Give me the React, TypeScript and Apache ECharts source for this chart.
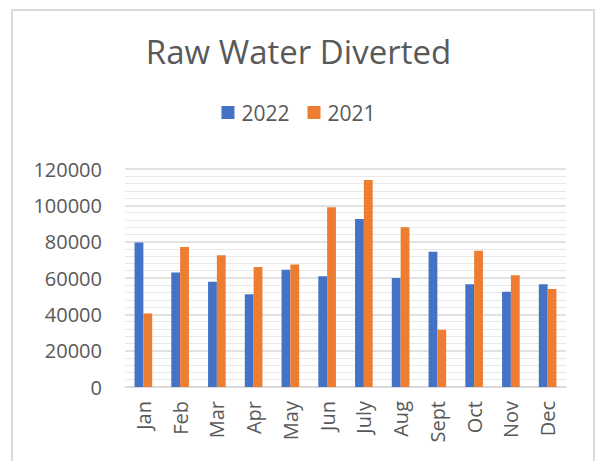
import React, { useEffect, useRef } from "react";
import * as echarts from "echarts";

const title = "Raw Water Diverted";
const months = ["Jan", "Feb", "Mar", "Apr", "May", "Jun", "July", "Aug", "Sept", "Oct", "Nov", "Dec"];
const series2022 = [79500, 63000, 58000, 51000, 64500, 61000, 92500, 60000, 74500, 56500, 52500, 56500];
const series2021 = [40500, 77000, 72500, 66000, 67500, 99000, 114000, 88000, 31500, 75000, 61500, 54000];
const yTicks = { min: 0, max: 120000, interval: 20000 };

const FONT = "'Open Sans', 'Noto Sans', sans-serif";
const TEXT = "#595959";

export default function App() {
  const ref = useRef<HTMLDivElement>(null);
  useEffect(() => {
    const chart = echarts.init(ref.current!, null, { renderer: "svg" });
    chart.setOption({
      animation: false,
      backgroundColor: "#ffffff",
      textStyle: { fontFamily: FONT, color: TEXT },
      title: {
        text: title,
        left: "center",
        top: 30,
        textStyle: { fontFamily: FONT, fontSize: 33, fontWeight: "normal", color: TEXT },
      },
      legend: {
        top: 97,
        left: "center",
        itemWidth: 13,
        itemHeight: 13,
        itemGap: 18,
        icon: "rect",
        textStyle: { fontFamily: FONT, fontSize: 21, color: TEXT, padding: [0, 0, 0, 2] },
        data: ["2022", "2021"],
      },
      graphic: [
        {
          type: "rect",
          shape: { x: 12, y: 10, width: 582, height: 480 },
          style: { fill: "none", stroke: "#d9d9d9", lineWidth: 2 },
          silent: true,
        },
      ],
      grid: { left: 125, right: 31, top: 169, bottom: 74, containLabel: false },
      xAxis: {
        type: "category",
        data: months,
        axisLine: { show: true, lineStyle: { color: "#d9d9d9", width: 1.5 } },
        axisTick: { show: false },
        axisLabel: { rotate: 90, margin: 14, fontSize: 20, color: TEXT, fontFamily: FONT },
      },
      yAxis: {
        type: "value",
        min: yTicks.min,
        max: yTicks.max,
        interval: yTicks.interval,
        axisLine: { show: false },
        axisTick: { show: false },
        axisLabel: {
          fontSize: 20,
          color: TEXT,
          fontFamily: FONT,
          margin: 23,
          formatter: (v: number) => String(v),
        },
        splitLine: { show: true, lineStyle: { color: "#d9d9d9", width: 1.5 } },
        minorTick: { show: false, splitNumber: 5 },
        minorSplitLine: { show: true, lineStyle: { color: "#e8e8e8", width: 1 } },
      },
      series: [
        {
          name: "2022",
          type: "bar",
          data: series2022,
          itemStyle: { color: "#4472C4" },
          barGap: "0%",
          barCategoryGap: "52%",
        },
        {
          name: "2021",
          type: "bar",
          data: series2021,
          itemStyle: { color: "#ED7D31" },
          barGap: "0%",
          barCategoryGap: "52%",
        },
      ],
    });
    return () => chart.dispose();
  }, []);
  return (
    <div
      ref={ref}
      style={{ position: "absolute", left: 0, top: 0, width: 597, height: 461 }}
    />
  );
}
